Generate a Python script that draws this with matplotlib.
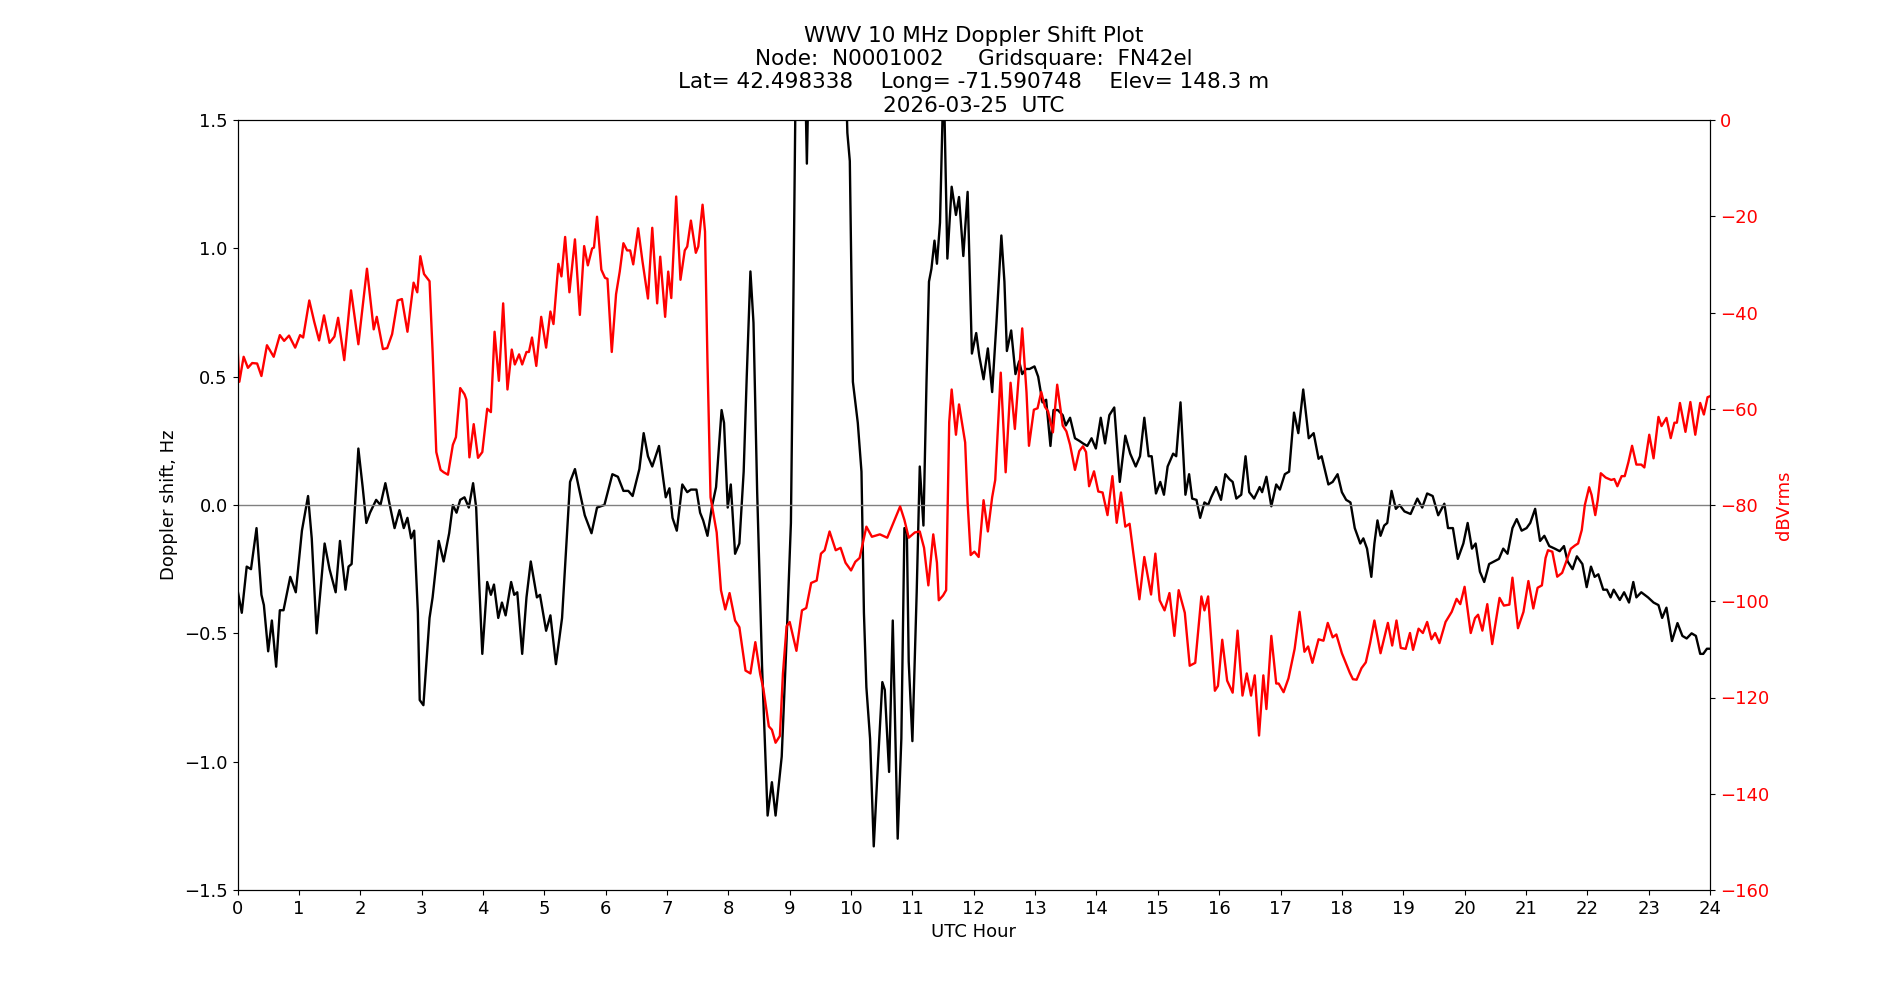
import matplotlib
matplotlib.use("Agg")
import matplotlib.pyplot as plt

# Doppler shift (Hz), by UTC hour
doppler_hours = [
    0.00, 0.07, 0.15, 0.22, 0.31, 0.39, 0.43, 0.50, 0.56, 0.63, 0.69, 0.75, 0.86, 0.95,
    1.05, 1.15, 1.21, 1.29, 1.42, 1.50, 1.60, 1.67, 1.76, 1.81, 1.86, 1.97,
    2.04, 2.10, 2.16, 2.26, 2.33, 2.41, 2.49, 2.56, 2.64, 2.71, 2.77, 2.83, 2.88, 2.94, 2.97,
    3.03, 3.13, 3.18, 3.28, 3.36, 3.45, 3.51, 3.57, 3.63, 3.70, 3.77, 3.84, 3.89, 3.94, 3.99,
    4.07, 4.13, 4.18, 4.25, 4.31, 4.37, 4.46, 4.51, 4.56, 4.64, 4.71, 4.78, 4.88, 4.93,
    5.03, 5.10, 5.19, 5.29, 5.42, 5.50, 5.57, 5.66, 5.77, 5.86, 5.98,
    6.11, 6.20, 6.29, 6.37, 6.44, 6.55, 6.62, 6.69, 6.76, 6.87, 6.94, 6.98,
    7.04, 7.09, 7.16, 7.25, 7.33, 7.39, 7.48, 7.54, 7.59, 7.66, 7.73, 7.80, 7.89, 7.93, 7.99,
    8.04, 8.11, 8.18, 8.25, 8.30, 8.36, 8.41, 8.47, 8.55, 8.64, 8.71, 8.77, 8.87, 8.95,
    9.02, 9.05, 9.09, 9.13, 9.20, 9.25, 9.28, 9.31, 9.40, 9.60, 9.80, 9.90, 9.94, 9.98,
    10.03, 10.11, 10.17, 10.21, 10.25, 10.31, 10.37, 10.44, 10.51, 10.55, 10.62, 10.68,
    10.76, 10.82, 10.87, 10.91, 10.94,
    11.00, 11.07, 11.12, 11.18, 11.23, 11.27, 11.31, 11.36, 11.40, 11.45, 11.49, 11.52,
    11.57, 11.64, 11.71, 11.76, 11.83, 11.90, 11.97,
    12.04, 12.09, 12.16, 12.23, 12.30, 12.37, 12.45, 12.50, 12.54, 12.61, 12.68, 12.74,
    12.79, 12.85, 12.91, 12.99,
    13.05, 13.12, 13.18, 13.25, 13.30, 13.37, 13.45, 13.50, 13.57, 13.65, 13.72, 13.78,
    13.85, 13.92, 13.99,
    14.07, 14.14, 14.21, 14.29, 14.38, 14.47, 14.55, 14.64, 14.71, 14.78, 14.85, 14.90, 14.97,
    15.04, 15.10, 15.16, 15.25, 15.30, 15.37, 15.45, 15.51, 15.56, 15.63, 15.69, 15.76,
    15.82, 15.87, 15.95,
    16.03, 16.10, 16.17, 16.22, 16.28, 16.36, 16.43, 16.49, 16.57, 16.66, 16.70, 16.77,
    16.85, 16.93, 16.99,
    17.07, 17.14, 17.22, 17.29, 17.37, 17.46, 17.54, 17.62, 17.67, 17.78, 17.85, 17.93,
    18.00, 18.07, 18.14, 18.21, 18.30, 18.35, 18.41, 18.48, 18.53, 18.58, 18.63, 18.69,
    18.74, 18.81, 18.88, 18.94,
    19.02, 19.12, 19.23, 19.31, 19.39, 19.48, 19.57, 19.67, 19.73, 19.81, 19.89, 19.98,
    20.05, 20.12, 20.18, 20.25, 20.32, 20.40, 20.48, 20.56, 20.63, 20.70, 20.78, 20.85, 20.93,
    21.01, 21.07, 21.15, 21.23, 21.30, 21.38, 21.47, 21.55, 21.62, 21.68, 21.76, 21.83,
    21.92, 21.99,
    22.06, 22.12, 22.18, 22.26, 22.32, 22.38, 22.43, 22.53, 22.60, 22.68, 22.75, 22.80,
    22.88, 22.99,
    23.08, 23.16, 23.22, 23.29, 23.38, 23.47, 23.55, 23.62, 23.70, 23.77, 23.84, 23.89,
    23.95, 24.00,
]
doppler_hz = [
    -0.33, -0.42, -0.24, -0.25, -0.09, -0.35, -0.39, -0.57, -0.45, -0.63, -0.41, -0.41, -0.28, -0.34,
    -0.10, 0.035, -0.13, -0.50, -0.15, -0.25, -0.34, -0.14, -0.33, -0.24, -0.23, 0.22,
    0.07, -0.07, -0.03, 0.02, 0.0, 0.085, -0.01, -0.09, -0.02, -0.09, -0.05, -0.13, -0.10, -0.42, -0.76,
    -0.78, -0.44, -0.36, -0.14, -0.22, -0.11, 0.0, -0.03, 0.02, 0.03, -0.01, 0.085, -0.01, -0.31, -0.58,
    -0.30, -0.35, -0.31, -0.44, -0.38, -0.43, -0.30, -0.35, -0.34, -0.58, -0.36, -0.22, -0.36, -0.35,
    -0.49, -0.43, -0.62, -0.44, 0.09, 0.14, 0.06, -0.04, -0.11, -0.01, 0.0,
    0.12, 0.11, 0.055, 0.055, 0.035, 0.14, 0.28, 0.19, 0.15, 0.23, 0.10, 0.03,
    0.065, -0.05, -0.10, 0.08, 0.05, 0.06, 0.06, -0.03, -0.06, -0.12, -0.01, 0.07, 0.37, 0.32, -0.01,
    0.08, -0.19, -0.15, 0.13, 0.50, 0.91, 0.71, 0.05, -0.63, -1.21, -1.08, -1.21, -0.98, -0.52,
    -0.07, 0.56, 1.49, 2.3, 2.5, 1.7, 1.33, 1.7, 2.4, 2.6, 2.4, 1.8, 1.45, 1.34,
    0.48, 0.32, 0.13, -0.42, -0.71, -0.91, -1.33, -1.00, -0.69, -0.72, -1.04, -0.45,
    -1.30, -0.91, -0.09, -0.11, -0.61,
    -0.92, -0.34, 0.15, -0.08, 0.48, 0.87, 0.92, 1.03, 0.94, 1.10, 1.50, 1.56,
    0.96, 1.24, 1.13, 1.20, 0.97, 1.22, 0.59,
    0.67, 0.58, 0.49, 0.61, 0.44, 0.71, 1.05, 0.87, 0.60, 0.68, 0.51, 0.56,
    0.51, 0.53, 0.53, 0.54,
    0.50, 0.40, 0.41, 0.23, 0.37, 0.37, 0.35, 0.31, 0.34, 0.26, 0.25, 0.24,
    0.23, 0.26, 0.22,
    0.34, 0.24, 0.35, 0.38, 0.09, 0.27, 0.20, 0.15, 0.19, 0.34, 0.19, 0.19, 0.045,
    0.09, 0.04, 0.15, 0.20, 0.19, 0.40, 0.04, 0.12, 0.025, 0.02, -0.05, 0.01,
    0.0, 0.03, 0.07,
    0.02, 0.12, 0.10, 0.09, 0.025, 0.04, 0.19, 0.05, 0.025, 0.07, 0.05, 0.11,
    -0.005, 0.08, 0.06,
    0.12, 0.13, 0.36, 0.28, 0.45, 0.26, 0.28, 0.18, 0.19, 0.08, 0.09, 0.12,
    0.05, 0.02, 0.01, -0.09, -0.15, -0.13, -0.17, -0.28, -0.15, -0.06, -0.12, -0.08,
    -0.07, 0.055, -0.015, 0.0,
    -0.025, -0.035, 0.025, -0.01, 0.045, 0.035, -0.04, 0.005, -0.09, -0.09, -0.21, -0.15,
    -0.07, -0.17, -0.15, -0.26, -0.30, -0.23, -0.22, -0.21, -0.17, -0.19, -0.09, -0.055, -0.10,
    -0.09, -0.07, -0.015, -0.14, -0.12, -0.16, -0.17, -0.18, -0.16, -0.22, -0.25, -0.20,
    -0.23, -0.32,
    -0.24, -0.28, -0.27, -0.33, -0.33, -0.36, -0.33, -0.37, -0.34, -0.38, -0.30, -0.36,
    -0.34, -0.36,
    -0.38, -0.39, -0.44, -0.40, -0.53, -0.46, -0.51, -0.52, -0.50, -0.51, -0.58, -0.58,
    -0.56, -0.56,
]

# Received level (dBVrms), by UTC hour
power_hours = [
    0.00, 0.03, 0.10, 0.17, 0.24, 0.32, 0.39, 0.48, 0.59, 0.69, 0.76, 0.84, 0.94,
    1.02, 1.07, 1.17, 1.25, 1.33, 1.41, 1.50, 1.58, 1.64, 1.74, 1.85, 1.97,
    2.11, 2.22, 2.27, 2.37, 2.44, 2.52, 2.61, 2.68, 2.77, 2.87, 2.93, 2.98,
    3.04, 3.13, 3.18, 3.24, 3.31, 3.36, 3.43, 3.51, 3.56, 3.63, 3.70, 3.73, 3.78, 3.85, 3.92, 3.99,
    4.07, 4.13, 4.19, 4.26, 4.33, 4.40, 4.47, 4.52, 4.59, 4.64, 4.71, 4.75, 4.80, 4.87, 4.95,
    5.03, 5.10, 5.15, 5.23, 5.28, 5.34, 5.41, 5.50, 5.58, 5.65, 5.71, 5.78, 5.81, 5.86, 5.93, 5.99,
    6.03, 6.10, 6.17, 6.23, 6.29, 6.35, 6.40, 6.45, 6.53, 6.60, 6.69, 6.76, 6.84, 6.89, 6.97,
    7.02, 7.07, 7.15, 7.22, 7.29, 7.33, 7.39, 7.47, 7.51, 7.58, 7.62, 7.66, 7.71, 7.81, 7.88, 7.95,
    8.02, 8.11, 8.18, 8.28, 8.36, 8.44, 8.52, 8.57, 8.66, 8.71, 8.77, 8.84, 8.89, 8.95,
    9.00, 9.11, 9.20, 9.27, 9.35, 9.44, 9.51, 9.57, 9.65, 9.75, 9.83, 9.91,
    10.00, 10.07, 10.14, 10.25, 10.34, 10.47, 10.59, 10.69, 10.80, 10.87, 10.94,
    11.04, 11.12, 11.19, 11.26, 11.34, 11.40, 11.43, 11.50, 11.55, 11.60, 11.64, 11.71,
    11.76, 11.86, 11.90, 11.95,
    12.01, 12.08, 12.16, 12.23, 12.30, 12.35, 12.44, 12.52, 12.60, 12.67, 12.79, 12.86,
    12.90, 12.98,
    13.04, 13.10, 13.16, 13.21, 13.29, 13.36, 13.45, 13.51, 13.57, 13.65, 13.72, 13.78,
    13.83, 13.88, 13.96,
    14.03, 14.10, 14.18, 14.26, 14.33, 14.40, 14.47, 14.54, 14.60, 14.70, 14.78, 14.89, 14.96,
    15.03, 15.11, 15.19, 15.27, 15.34, 15.44, 15.52, 15.61, 15.71, 15.76, 15.82, 15.93, 15.98,
    16.05, 16.13, 16.22, 16.30, 16.38, 16.45, 16.52, 16.58, 16.65, 16.72, 16.77, 16.85,
    16.93, 16.97,
    17.05, 17.13, 17.23, 17.31, 17.39, 17.45, 17.52, 17.62, 17.70, 17.77, 17.85, 17.91,
    18.00, 18.07, 18.13, 18.18, 18.24, 18.32, 18.39, 18.46, 18.53, 18.63, 18.75, 18.82,
    18.89, 18.96,
    19.04, 19.11, 19.16, 19.25, 19.32, 19.39, 19.46, 19.52, 19.59, 19.69, 19.79, 19.87, 19.93,
    20.00, 20.10, 20.17, 20.22, 20.29, 20.37, 20.45, 20.57, 20.64, 20.73, 20.78, 20.87, 20.96,
    21.04, 21.12, 21.19, 21.26, 21.32, 21.36, 21.43, 21.51, 21.59, 21.65, 21.73, 21.80,
    21.85, 21.91, 21.96,
    22.03, 22.07, 22.13, 22.17, 22.22, 22.30, 22.39, 22.44, 22.49, 22.56, 22.61, 22.67,
    22.73, 22.80, 22.88, 22.93,
    23.01, 23.08, 23.16, 23.21, 23.29, 23.36, 23.42, 23.46, 23.51, 23.60, 23.68, 23.76,
    23.84, 23.90, 23.96, 24.00,
]
power_dbv = [
    -47.0, -54.4, -49.2, -51.5, -50.5, -50.6, -53.2, -46.8, -49.2, -44.7, -45.9, -44.8, -47.3,
    -44.7, -45.2, -37.5, -41.9, -45.8, -40.6, -46.3, -45.0, -41.1, -49.9, -35.4, -46.6,
    -30.9, -43.5, -40.9, -47.6, -47.4, -44.5, -37.5, -37.2, -44.0, -33.8, -35.8, -28.3,
    -32.0, -33.5, -48.2, -69.0, -72.7, -73.2, -73.7, -67.5, -65.9, -55.7, -57.0, -58.1, -70.1, -63.2, -70.2, -69.0,
    -60.0, -60.7, -44.0, -54.2, -38.1, -56.0, -47.7, -50.8, -48.7, -50.8, -48.2, -48.2, -45.2, -51.1, -40.9,
    -47.3, -39.8, -42.4, -29.9, -32.5, -24.3, -35.8, -24.8, -40.5, -26.2, -30.2, -26.7, -26.5, -20.1, -31.1, -32.8,
    -33.0, -48.2, -36.2, -31.5, -25.6, -27.1, -27.1, -30.0, -22.5, -29.3, -37.1, -22.4, -38.1, -28.4, -40.9,
    -31.5, -37.0, -15.9, -33.2, -27.1, -26.3, -20.9, -27.6, -26.3, -17.6, -23.2, -50.2, -78.4, -85.7, -97.7, -101.7,
    -98.3, -104.0, -105.4, -114.4, -115.0, -108.5, -115.2, -118.1, -126.0, -126.7, -129.4, -128.0, -115.0, -105.2,
    -104.3, -110.3, -101.9, -101.4, -96.2, -95.7, -90.1, -89.4, -85.5, -89.4, -88.9, -92.0,
    -93.6, -91.8, -91.0, -84.5, -86.6, -86.1, -86.8, -83.7, -80.3, -83.1, -86.8,
    -85.7, -85.5, -88.9, -96.7, -86.1, -92.0, -99.8, -98.8, -97.7, -62.8, -56.0, -65.4,
    -59.1, -67.0, -79.5, -90.4,
    -89.7, -90.8, -79.0, -85.5, -78.4, -74.8, -52.5, -73.2, -54.6, -64.2, -43.3, -56.6,
    -67.7, -60.2,
    -59.9, -56.5, -59.6, -60.5, -64.9, -55.0, -63.5, -64.7, -67.5, -72.7, -68.8, -67.8,
    -69.0, -76.1, -73.0,
    -77.2, -77.4, -82.1, -74.0, -83.7, -77.4, -84.5, -83.9, -89.9, -99.6, -90.8, -98.6, -90.1,
    -99.8, -101.9, -98.3, -107.2, -97.7, -102.4, -113.4, -112.8, -99.0, -101.9, -99.0, -118.6, -117.6,
    -108.0, -116.5, -119.0, -106.1, -119.6, -115.0, -119.6, -115.4, -127.9, -115.4, -122.4, -107.2,
    -117.1, -117.1,
    -118.9, -116.0, -109.9, -102.2, -110.5, -109.4, -112.8, -107.9, -108.2, -104.5, -107.5, -106.9,
    -110.8, -113.0, -114.9, -116.2, -116.3, -113.9, -112.7, -108.7, -104.0, -110.8, -104.5, -109.2,
    -104.0, -109.7,
    -109.9, -106.6, -110.1, -105.7, -106.6, -104.3, -107.9, -106.6, -108.7, -104.3, -102.2, -99.5, -100.6,
    -97.0, -106.6, -103.5, -102.8, -106.1, -100.6, -108.9, -99.3, -100.9, -100.7, -95.1, -105.6, -102.2,
    -95.8, -101.5, -97.2, -96.7, -91.0, -89.4, -89.7, -94.9, -94.1, -92.0, -89.1, -88.4,
    -88.0, -85.2, -80.0,
    -76.3, -77.9, -82.1, -79.0, -73.4, -74.3, -74.8, -74.6, -76.1, -74.0, -74.0, -71.1,
    -67.7, -71.6, -71.6, -72.2,
    -65.4, -70.3, -61.7, -63.6, -61.9, -66.1, -62.9, -62.9, -58.8, -64.8, -58.6, -65.4,
    -58.8, -61.2, -57.6, -57.4,
]

hour_ticks = list(range(0, 25))

title = ("WWV 10 MHz Doppler Shift Plot\n"
         "Node:  N0001002     Gridsquare:  FN42el\n"
         "Lat= 42.498338    Long= -71.590748    Elev= 148.3 m\n"
         "2026-03-25  UTC")

fig = plt.figure(figsize=(19, 10), dpi=100)
ax = fig.add_subplot(111)

# Doppler trace and zero reference
ax.plot(doppler_hours, doppler_hz, color="black", linewidth=1.7)
ax.axhline(0, color="grey", linewidth=1)
ax.set_xlim(0, 24)
ax.set_ylim(-1.5, 1.5)
ax.set_xticks(hour_ticks)
ax.set_xlabel("UTC Hour", fontsize=13)
ax.set_ylabel("Doppler shift, Hz", fontsize=13)
ax.tick_params(labelsize=13)
ax.set_title(title, fontsize=15.5)

# Signal level on second axis
ax2 = ax.twinx()
ax2.plot(power_hours, power_dbv, color="red", linewidth=1.7)
ax2.set_ylim(-160, 0)
ax2.set_ylabel("dBVrms", color="red", fontsize=13)
ax2.tick_params(axis="y", labelcolor="red", labelsize=13)

plt.savefig("out.png", dpi=100)
